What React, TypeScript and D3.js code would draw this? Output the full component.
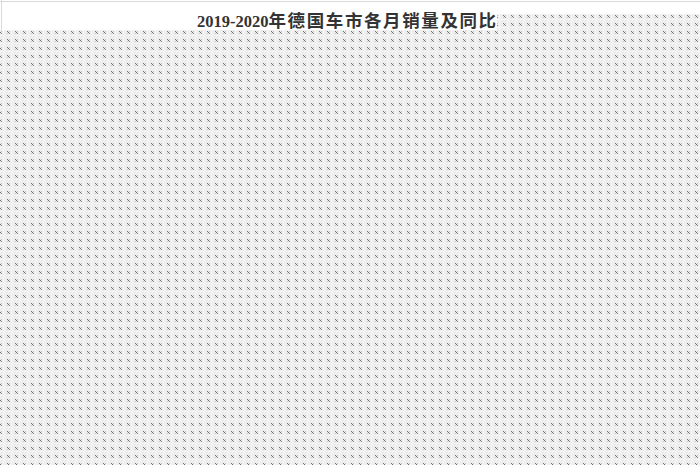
import React, { useEffect, useRef } from 'react';
import * as d3 from 'd3';

// only the title and the dotted overlay are visible in the source picture
const titleYears = '2019-2020';
const titleWords = '年德国车市各月销量及同比';
// dark pixels inside one 8x8 tile: [x, y, colour]
const tileDots: [number, number, string][] = [
  [7, 7, '#777'],
  [9, 7, '#c4c4c4'],
  [8, 8, '#6a6a6a'],
  [7, 9, '#c4c4c4'],
  [9, 9, '#8a8a8a'],
];

const App: React.FC = () => {
  const svgRef = useRef<SVGSVGElement>(null);

  useEffect(() => {
    if (!svgRef.current) return;
    d3.select(svgRef.current).selectAll('*').remove();

    const width = 700;
    const height = 465;
    const tile = 8;
    const titleRight = 497; // right edge of white title band
    const bandBottom = 30;  // bottom of white band under the title
    const rightTop = 14;    // top of pattern right of the title

    const svg = d3.select(svgRef.current)
      .attr('width', width)
      .attr('height', height);

    // pattern definition
    const defs = svg.append('defs');
    const pat = defs.append('pattern')
      .attr('id', 'dots')
      .attr('patternUnits', 'userSpaceOnUse')
      .attr('width', tile)
      .attr('height', tile);
    pat.append('rect')
      .attr('width', tile)
      .attr('height', tile)
      .attr('fill', '#eeeeee');
    pat.append('rect')
      .attr('x', 0).attr('y', 3)
      .attr('width', tile).attr('height', 1)
      .attr('fill', '#f6f6f6');
    pat.append('rect')
      .attr('x', 3).attr('y', 0)
      .attr('width', 1).attr('height', tile)
      .attr('fill', '#f6f6f6');
    tileDots.forEach(([x, y, c]) => {
      pat.append('rect')
        .attr('x', x % tile).attr('y', y % tile)
        .attr('width', 1).attr('height', 1)
        .attr('fill', c);
    });

    // white base
    svg.append('rect')
      .attr('width', width)
      .attr('height', height)
      .attr('fill', '#fff');

    // pattern area: everything except the title band
    const area = d3.path();
    area.moveTo(0, bandBottom);
    area.lineTo(titleRight, bandBottom);
    area.lineTo(titleRight, rightTop);
    area.lineTo(width, rightTop);
    area.lineTo(width, height);
    area.lineTo(0, height);
    area.closePath();
    svg.append('path')
      .attr('d', area.toString())
      .attr('fill', 'url(#dots)');

    // faint outer frame
    svg.append('line')
      .attr('x1', 0).attr('x2', width)
      .attr('y1', 1.5).attr('y2', 1.5)
      .attr('stroke', '#d9d9d9');
    svg.append('line')
      .attr('x1', 1.5).attr('x2', 1.5)
      .attr('y1', 0).attr('y2', bandBottom)
      .attr('stroke', '#d9d9d9');

    // title: serif digits, CJK a touch larger and spaced
    const title = svg.append('text')
      .attr('x', 197)
      .attr('y', 27)
      .attr('font-weight', 'bold')
      .attr('fill', '#333');
    title.append('tspan')
      .attr('font-family', '"Liberation Serif", "Times New Roman", serif')
      .attr('font-size', 16.5)
      .text(titleYears);
    title.append('tspan')
      .attr('font-family', '"Noto Sans CJK SC", sans-serif')
      .attr('font-size', 17.5)
      .attr('letter-spacing', 1.6)
      .text(titleWords);
  }, []);

  return (
    <div style={{ position: 'absolute', left: 0, top: 0 }}>
      <svg ref={svgRef} style={{ display: 'block' }}></svg>
    </div>
  );
};

export default App;
